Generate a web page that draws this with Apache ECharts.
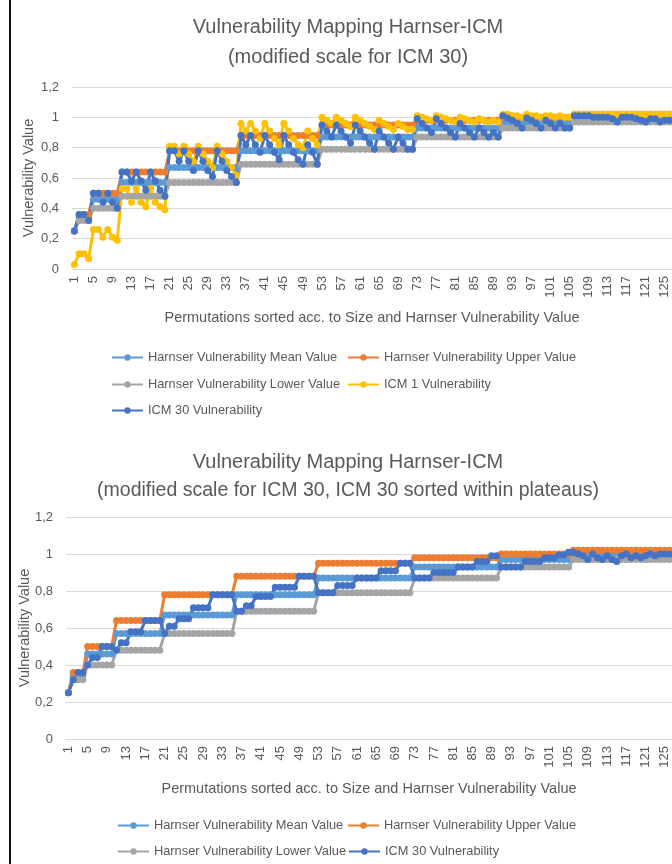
<!DOCTYPE html>
<html>
<head>
<meta charset="utf-8">
<script src="https://cdn.jsdelivr.net/npm/echarts@6/dist/echarts.min.js"></script>
<style>
html,body{margin:0;padding:0;background:#fff;}
#chart{width:672px;height:864px;}
</style>
</head>
<body>
<div id="chart"></div>
<script>
// ---------- DATA ----------
const categories = ['1','2','3','4','5','6','7','8','9','10','11','12','13','14','15','16','17','18','19','20',
'21','22','23','24','25','26','27','28','29','30','31','32','33','34','35','36','37','38','39','40',
'41','42','43','44','45','46','47','48','49','50','51','52','53','54','55','56','57','58','59','60',
'61','62','63','64','65','66','67','68','69','70','71','72','73','74','75','76','77','78','79','80',
'81','82','83','84','85','86','87','88','89','90','91','92','93','94','95','96','97','98','99','100',
'101','102','103','104','105','106','107','108','109','110','111','112','113','114','115','116','117','118','119','120',
'121','122','123','124','125','126'];

const harnserUpper = [0.25,
0.36,0.36,0.36,
0.50,0.50,0.50,0.50,0.50,0.50,
0.64,0.64,0.64,0.64,0.64,0.64,0.64,0.64,0.64,0.64,
0.78,0.78,0.78,0.78,0.78,0.78,0.78,0.78,0.78,0.78,0.78,0.78,0.78,0.78,0.78,
0.88,0.88,0.88,0.88,0.88,0.88,0.88,0.88,0.88,0.88,0.88,0.88,0.88,0.88,0.88,0.88,0.88,
0.95,0.95,0.95,0.95,0.95,0.95,0.95,0.95,0.95,0.95,0.95,0.95,0.95,0.95,0.95,0.95,0.95,0.95,0.95,0.95,
0.98,0.98,0.98,0.98,0.98,0.98,0.98,0.98,0.98,0.98,0.98,0.98,0.98,0.98,0.98,0.98,0.98,0.98,
1.00,1.00,1.00,1.00,1.00,1.00,1.00,1.00,1.00,1.00,1.00,1.00,1.00,1.00,1.00,
1.02,1.02,1.02,1.02,1.02,1.02,1.02,1.02,1.02,1.02,1.02,1.02,1.02,1.02,1.02,1.02,1.02,1.02,1.02,1.02,1.02];

const harnserMean = [0.25,
0.34,0.34,0.34,
0.46,0.46,0.46,0.46,0.46,0.46,
0.57,0.57,0.57,0.57,0.57,0.57,0.57,0.57,0.57,0.57,
0.67,0.67,0.67,0.67,0.67,0.67,0.67,0.67,0.67,0.67,0.67,0.67,0.67,0.67,0.67,
0.78,0.78,0.78,0.78,0.78,0.78,0.78,0.78,0.78,0.78,0.78,0.78,0.78,0.78,0.78,0.78,0.78,
0.87,0.87,0.87,0.87,0.87,0.87,0.87,0.87,0.87,0.87,0.87,0.87,0.87,0.87,0.87,0.87,0.87,0.87,0.87,0.87,
0.93,0.93,0.93,0.93,0.93,0.93,0.93,0.93,0.93,0.93,0.93,0.93,0.93,0.93,0.93,0.93,0.93,0.93,
0.97,0.97,0.97,0.97,0.97,0.97,0.97,0.97,0.97,0.97,0.97,0.97,0.97,0.97,0.97,
1.00,1.00,1.00,1.00,1.00,1.00,1.00,1.00,1.00,1.00,1.00,1.00,1.00,1.00,1.00,1.00,1.00,1.00,1.00,1.00,1.00];

const harnserLower = [0.25,
0.32,0.32,0.32,
0.40,0.40,0.40,0.40,0.40,0.40,
0.48,0.48,0.48,0.48,0.48,0.48,0.48,0.48,0.48,0.48,
0.57,0.57,0.57,0.57,0.57,0.57,0.57,0.57,0.57,0.57,0.57,0.57,0.57,0.57,0.57,
0.69,0.69,0.69,0.69,0.69,0.69,0.69,0.69,0.69,0.69,0.69,0.69,0.69,0.69,0.69,0.69,0.69,
0.79,0.79,0.79,0.79,0.79,0.79,0.79,0.79,0.79,0.79,0.79,0.79,0.79,0.79,0.79,0.79,0.79,0.79,0.79,0.79,
0.87,0.87,0.87,0.87,0.87,0.87,0.87,0.87,0.87,0.87,0.87,0.87,0.87,0.87,0.87,0.87,0.87,0.87,
0.93,0.93,0.93,0.93,0.93,0.93,0.93,0.93,0.93,0.93,0.93,0.93,0.93,0.93,0.93,
0.97,0.97,0.97,0.97,0.97,0.97,0.97,0.97,0.97,0.97,0.97,0.97,0.97,0.97,0.97,0.97,0.97,0.97,0.97,0.97,0.97];

const icm1 = [0.03,
0.10,0.10,0.07,
0.26,0.26,0.21,0.26,0.21,0.19,
0.53,0.53,0.44,0.53,0.44,0.41,0.53,0.44,0.41,0.39,
0.81,0.81,0.76,0.81,0.76,0.71,0.81,0.76,0.71,0.67,0.81,0.76,0.71,0.67,0.62,
0.96,0.91,0.96,0.91,0.86,0.96,0.91,0.86,0.82,0.96,0.91,0.86,0.82,0.80,0.91,0.86,0.82,
1.00,0.98,0.96,1.00,0.98,0.96,0.94,1.00,0.98,0.96,0.94,0.92,0.98,0.96,0.94,0.92,0.96,0.94,0.92,0.92,
1.01,1.00,0.99,0.98,1.01,1.00,0.99,0.98,0.97,1.00,0.99,0.98,0.97,0.99,0.98,0.97,0.98,0.97,
1.02,1.02,1.01,1.01,1.00,1.02,1.01,1.01,1.00,1.01,1.01,1.00,1.01,1.00,1.00,
1.02,1.02,1.02,1.02,1.02,1.02,1.02,1.02,1.02,1.02,1.02,1.02,1.02,1.02,1.02,1.02,1.02,1.02,1.02,1.02,1.02];

const icm30 = [0.25,
0.36,0.36,0.32,
0.50,0.50,0.44,0.50,0.44,0.40,
0.64,0.64,0.58,0.64,0.58,0.52,0.64,0.58,0.52,0.48,
0.78,0.78,0.71,0.78,0.71,0.65,0.78,0.71,0.65,0.61,0.78,0.71,0.65,0.61,0.57,
0.88,0.82,0.88,0.82,0.77,0.88,0.82,0.77,0.72,0.88,0.82,0.77,0.72,0.69,0.82,0.77,0.69,
0.95,0.91,0.87,0.95,0.91,0.87,0.83,0.95,0.91,0.87,0.83,0.79,0.91,0.87,0.83,0.79,0.87,0.83,0.79,0.79,
0.99,0.96,0.93,0.90,0.99,0.96,0.93,0.90,0.87,0.96,0.93,0.90,0.87,0.93,0.90,0.87,0.90,0.87,
1.01,0.995,0.98,0.96,0.93,0.995,0.98,0.96,0.93,0.98,0.96,0.93,0.96,0.93,0.93,
1.01,1.01,1.01,1.01,1.00,1.00,1.00,1.00,0.99,0.97,1.00,1.00,1.00,0.99,0.98,0.97,0.99,0.99,0.97,0.98,0.98];

const icm30Sorted = [0.25,
0.32,0.36,0.36,
0.40,0.44,0.44,0.50,0.50,0.50,
0.48,0.52,0.52,0.58,0.58,0.58,0.64,0.64,0.64,0.64,
0.57,0.61,0.61,0.65,0.65,0.65,0.71,0.71,0.71,0.71,0.78,0.78,0.78,0.78,0.78,
0.69,0.69,0.72,0.72,0.77,0.77,0.77,0.77,0.82,0.82,0.82,0.82,0.82,0.88,0.88,0.88,0.88,
0.79,0.79,0.79,0.79,0.83,0.83,0.83,0.83,0.87,0.87,0.87,0.87,0.87,0.91,0.91,0.91,0.91,0.95,0.95,0.95,
0.87,0.87,0.87,0.87,0.90,0.90,0.90,0.90,0.90,0.93,0.93,0.93,0.93,0.96,0.96,0.96,0.99,0.99,
0.93,0.93,0.93,0.93,0.93,0.96,0.96,0.96,0.96,0.98,0.98,0.98,0.995,0.995,1.01,
1.01,1.00,0.99,0.97,1.00,0.98,0.97,0.99,0.97,0.96,0.99,1.00,0.98,0.99,0.98,0.99,1.00,0.99,1.00,1.00,1.00];

const yTicks = [0, 0.2, 0.4, 0.6, 0.8, 1, 1.2];

const titles1 = ['Vulnerability Mapping Harnser-ICM', '(modified scale for ICM 30)'];
const titles2 = ['Vulnerability Mapping Harnser-ICM', '(modified scale for ICM 30, ICM 30 sorted within plateaus)'];
const xName = 'Permutations sorted acc. to Size and Harnser Vulnerability Value';
const yName = 'Vulnerability Value';

const N_MEAN = 'Harnser Vulnerability Mean Value';
const N_UP = 'Harnser Vulnerability Upper Value';
const N_LOW = 'Harnser Vulnerability Lower Value';
const N_ICM1 = 'ICM 1 Vulnerability';
const N_ICM30 = 'ICM 30 Vulnerability';

// ---------- STYLE ----------
const TXT = '#595959';
const FONT = '"Liberation Sans", Arial, sans-serif';
const colors = {};
colors[N_MEAN] = '#5B9BD5';
colors[N_UP] = '#ED7D31';
colors[N_LOW] = '#A5A5A5';
colors[N_ICM1] = '#FFC000';
colors[N_ICM30] = '#4472C4';

function fmt(v){ return String(Math.round(v*10)/10).replace('.', ','); }

function xAxis(gi, nameGap){
  return {
    type:'category', gridIndex:gi, data:categories, boundaryGap:true,
    axisLine:{lineStyle:{color:'#D9D9D9', width:1}},
    axisTick:{show:false},
    axisLabel:{interval:3, rotate:90, color:TXT, fontSize:13, fontFamily:FONT, margin:7},
    name:xName, nameLocation:'middle', nameGap:nameGap,
    nameTextStyle:{color:TXT, fontSize:14.5, fontFamily:FONT}
  };
}
function yAxis(gi, nameGap){
  return {
    type:'value', gridIndex:gi, min:yTicks[0], max:yTicks[yTicks.length-1], interval:0.2,
    axisLine:{show:false}, axisTick:{show:false},
    splitLine:{lineStyle:{color:'#D9D9D9', width:1}},
    axisLabel:{color:TXT, fontSize:13, fontFamily:FONT, margin:13, formatter:fmt},
    name:yName, nameLocation:'middle', nameGap:nameGap, nameMoveOverlap:false,
    nameTextStyle:{color:TXT, fontSize:14.5, fontFamily:FONT}
  };
}
function ser(name, data, gi){
  return {
    name:name, type:'line', xAxisIndex:gi, yAxisIndex:gi, data:data,
    symbol:'circle', symbolSize:7, showSymbol:true, showAllSymbol:true,
    itemStyle:{color:colors[name]},
    lineStyle:{color:colors[name], width:3},
    animation:false
  };
}
function leg(name, left, cy){
  return {
    data:[name], left:left, top:cy-6, padding:0, itemWidth:31, itemHeight:8, itemGap:0,
    textStyle:{color:TXT, fontSize:12.8, fontFamily:FONT},
    selectedMode:false
  };
}

const chart = echarts.init(document.getElementById('chart'), null, {renderer:'canvas'});
chart.setOption({
  backgroundColor:'#ffffff',
  animation:false,
  title:[
    {text:titles1[0], left:343, top:12, textAlign:'center', textStyle:{color:TXT, fontSize:20, fontWeight:'normal', fontFamily:FONT}},
    {text:titles1[1], left:343, top:42, textAlign:'center', textStyle:{color:TXT, fontSize:20, fontWeight:'normal', fontFamily:FONT}},
    {text:titles2[0], left:343, top:447, textAlign:'center', textStyle:{color:TXT, fontSize:20, fontWeight:'normal', fontFamily:FONT}},
    {text:titles2[1], left:343, top:476, textAlign:'center', textStyle:{color:TXT, fontSize:19.5, fontWeight:'normal', fontFamily:FONT}}
  ],
  grid:[
    {left:72, right:-2, top:87, bottom:864-269, containLabel:false},
    {left:66, right:-10, top:517, bottom:864-739, containLabel:false}
  ],
  xAxis:[xAxis(0, 41), xAxis(1, 42)],
  yAxis:[yAxis(0, 36), yAxis(1, 34)],
  legend:[
    leg(N_MEAN, 111, 357), leg(N_UP, 347, 357),
    leg(N_LOW, 111, 384), leg(N_ICM1, 347, 384),
    leg(N_ICM30, 111, 410),
    leg(N_MEAN, 117, 825), leg(N_UP, 347, 825),
    leg(N_LOW, 117, 851), leg(N_ICM30, 348, 851)
  ],
  series:[
    ser(N_MEAN, harnserMean, 0),
    ser(N_UP, harnserUpper, 0),
    ser(N_LOW, harnserLower, 0),
    ser(N_ICM1, icm1, 0),
    ser(N_ICM30, icm30, 0),
    ser(N_MEAN, harnserMean, 1),
    ser(N_UP, harnserUpper, 1),
    ser(N_LOW, harnserLower, 1),
    ser(N_ICM30, icm30Sorted, 1)
  ],
  graphic:[
    {type:'rect', left:9, top:0, shape:{width:2, height:864}, style:{fill:'#111'}, silent:true}
  ]
});
</script>
</body>
</html>
